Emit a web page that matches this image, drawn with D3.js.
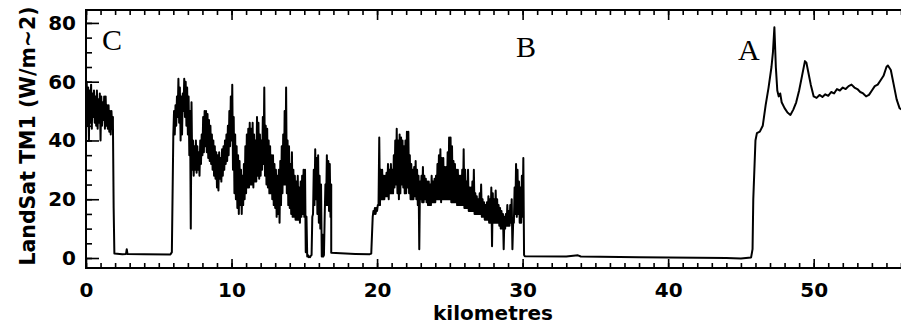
<!DOCTYPE html>
<html><head><meta charset="utf-8">
<script src="https://cdn.jsdelivr.net/npm/d3@7"></script>
<style>
html,body{margin:0;padding:0;background:#fff;}
svg{display:block;}
</style></head>
<body>
<svg id="chart" width="901" height="329"></svg>
<script>
// ---- data ----
const xMajorTicks = [0, 10, 20, 30, 40, 50];
const yMajorTicks = [0, 20, 40, 60, 80];
const xLabel = "kilometres";
const yLabel = "LandSat TM1 (W/m~2)";
const siteLabels = ["C", "B", "A"];
const siteKm = [1.1, 29.55, 44.8];
const siteVal = [70.8, 68.4, 67.3];

// Noisy stretches: per 0.1 km bin, the low and high of the dense trace
const binWidth = 0.1;
const westStart = 0.0;   // around C, km 0.0 .. 1.8
const westLo = [44, 45, 40, 46, 44, 48, 46, 45, 44, 46, 40, 45, 47, 44, 45, 44, 43, 42, 44];
const westHi = [60, 58, 57, 59, 56, 57, 55, 57, 54, 56, 55, 53, 55, 55, 52, 52, 50, 50, 48];

const midStart = 6.0;    // km 6.0 .. 16.8
const midLo = [42, 42, 45, 48, 46, 40, 42, 50, 48, 45,
  42, 35, 10, 30, 28, 30, 29, 30, 28, 32,
  35, 36, 38, 36, 34, 33, 32, 30, 28, 27,
  24, 23, 27, 26, 28, 30, 32, 33, 35, 38,
  40, 30, 22, 20, 17, 15, 18, 15, 18, 20,
  22, 24, 24, 25, 25, 24, 26, 26, 28, 27,
  28, 30, 32, 28, 25, 24, 22, 22, 20, 18,
  17, 14, 15, 12, 18, 22, 25, 25, 22, 18,
  17, 15, 14, 14, 13, 13, 13, 12, 14, 15,
  14, 2, 0.5, 0.3, 0.3, 1, 15, 18, 20, 15,
  12, 10, 0.5, 0.5, 14, 18, 18, 16, 14];
const midHi = [50, 52, 55, 61, 58, 55, 56, 61, 60, 58,
  55, 50, 53, 40, 38, 40, 38, 36, 40, 42,
  48, 50, 50, 49, 47, 45, 42, 40, 38, 36,
  35, 36, 34, 37, 38, 40, 42, 45, 50, 55,
  59, 48, 42, 38, 35, 33, 30, 28, 32, 38,
  42, 44, 46, 44, 46, 42, 40, 48, 46, 42,
  40, 48, 58, 45, 44, 40, 38, 35, 35, 32,
  30, 28, 30, 33, 38, 42, 50, 58, 40, 38,
  32, 36, 30, 28, 26, 28, 24, 26, 28, 30,
  30, 14, 1, 0.5, 0.8, 14, 30, 37, 34, 35,
  28, 25, 8, 1, 25, 35, 33, 32, 25];

const eastStart = 19.7;  // around B, km 19.7 .. 30.0
const eastLo = [14, 15, 15, 16, 18, 18, 20, 20, 20, 21,
  21, 20, 22, 22, 22, 24, 25, 22, 20, 22,
  25, 24, 22, 22, 24, 22, 20, 20, 20, 21,
  20, 18, 3, 20, 19, 19, 20, 19, 18, 18,
  18, 19, 19, 19, 20, 20, 20, 19, 20, 20,
  20, 20, 20, 20, 19, 19, 19, 19, 18, 18,
  18, 18, 18, 17, 17, 17, 16, 16, 16, 16,
  15, 15, 15, 15, 15, 14, 14, 13, 13, 13,
  12, 12, 4, 12, 12, 12, 12, 11, 10, 10,
  3, 10, 11, 11, 11, 12, 3, 12, 15, 14,
  15, 12, 12, 14];
const eastHi = [16, 17, 17, 18, 41, 30, 30, 28, 28, 29,
  32, 30, 32, 30, 35, 40, 44, 40, 42, 41,
  40, 38, 40, 43, 43, 35, 32, 30, 31, 33,
  30, 28, 26, 28, 31, 28, 27, 26, 26, 25,
  28, 26, 27, 28, 32, 35, 37, 34, 34, 31,
  31, 36, 41, 41, 38, 33, 32, 30, 30, 28,
  28, 30, 37, 30, 26, 30, 24, 24, 26, 30,
  22, 21, 20, 22, 25, 20, 19, 18, 19, 21,
  20, 24, 22, 20, 23, 20, 18, 17, 16, 15,
  14, 15, 18, 16, 18, 20, 12, 24, 32, 30,
  26, 24, 28, 34];

// Smooth stretches as [km, value]
const westFlat = [[1.85, 46], [1.9, 17], [1.95, 1.5], [2.5, 1.3], [2.75, 1.4], [2.8, 3], [2.85, 1.4],
  [4.0, 1.3], [5.8, 1.2], [5.9, 2]];
const midFlat = [[16.85, 1.8], [17.5, 1.6], [18.5, 1.4], [19.5, 1.3], [19.6, 1.5]];
const eastFlat = [[30.1, 1], [30.15, 0.6], [33.0, 0.5], [33.8, 0.9], [34.0, 0.5], [38.0, 0.3],
  [42.0, 0.1], [44.0, 0], [45.0, -0.2], [45.7, 0.2], [45.8, 3], [45.85, 20], [46.0, 40],
  [46.1, 42.5], [46.3, 43], [46.5, 45], [46.7, 52], [46.9, 58], [47.1, 65], [47.2, 70],
  [47.3, 78.5], [47.4, 65], [47.5, 57], [47.6, 55], [47.7, 56], [47.8, 53], [48.0, 51],
  [48.2, 49.5], [48.4, 48.7], [48.6, 50.5], [48.8, 53], [49.0, 57], [49.2, 62], [49.4, 67],
  [49.5, 66.5], [49.6, 64], [49.8, 59], [50.0, 55], [50.2, 54.5], [50.4, 55.5], [50.6, 54.8],
  [50.8, 55.7], [51.0, 55.2], [51.2, 56.5], [51.4, 56], [51.6, 57.5], [51.8, 57], [52.0, 58],
  [52.2, 57.5], [52.4, 58.5], [52.6, 59], [52.8, 58], [53.0, 57.5], [53.2, 56.5], [53.4, 56],
  [53.6, 55], [53.8, 55.5], [54.0, 57], [54.2, 58.5], [54.4, 59], [54.6, 60.5], [54.8, 62],
  [55.0, 65], [55.1, 65.5], [55.3, 64], [55.5, 59], [55.7, 54], [55.9, 51], [56.2, 50]];

// ---- assemble series: each noisy bin is drawn low -> high ----
function binned(start, lo, hi) {
  const out = [];
  lo.forEach((v, i) => {
    const k = start + i * binWidth;
    out.push([k, v]);
    out.push([k + binWidth / 2, hi[i]]);
  });
  return out;
}
const series = [].concat(
  binned(westStart, westLo, westHi), westFlat,
  binned(midStart, midLo, midHi), midFlat,
  binned(eastStart, eastLo, eastHi), eastFlat);

// ---- layout ----
const svg = d3.select("#chart");
const mLeft = 86, mRight = 901, mTop = 10, mBottom = 268;
const x = d3.scaleLinear().domain([0, 56]).range([mLeft, mRight]);
const y = d3.scaleLinear().domain([-3.4, 84.4]).range([mBottom, mTop]);

const tickFont = "'DejaVu Sans', sans-serif";

// line
svg.append("clipPath").attr("id", "clip").append("rect")
  .attr("x", mLeft).attr("y", mTop).attr("width", mRight - mLeft).attr("height", mBottom - mTop);
svg.append("path").datum(series)
  .attr("clip-path", "url(#clip)")
  .attr("fill", "none").attr("stroke", "#000").attr("stroke-width", 2)
  .attr("stroke-linejoin", "round")
  .attr("d", d3.line().x(d => x(d[0])).y(d => y(d[1])));

// axes
function styleAxis(g) {
  g.select(".domain").remove();
  g.selectAll(".tick line").attr("stroke", "#000").attr("stroke-width", 1.6);
  g.selectAll("text").attr("font-family", tickFont).attr("font-weight", "bold")
    .attr("font-size", 20).attr("fill", "#000");
}
const xMinor = d3.range(0, 57, 1);
const yMinor = d3.range(0, 85, 5);

svg.append("g").attr("transform", `translate(0,${mBottom})`)
  .call(d3.axisBottom(x).tickValues(xMinor).tickSize(-5).tickFormat(""))
  .call(styleAxis);
svg.append("g").attr("transform", `translate(0,${mBottom})`)
  .call(d3.axisBottom(x).tickValues(xMajorTicks).tickSize(-9).tickPadding(15).tickFormat(d3.format("d")))
  .call(styleAxis);
svg.append("g").attr("transform", `translate(0,${mTop})`)
  .call(d3.axisTop(x).tickValues(xMinor).tickSize(-5).tickFormat(""))
  .call(styleAxis);
svg.append("g").attr("transform", `translate(0,${mTop})`)
  .call(d3.axisTop(x).tickValues(xMajorTicks).tickSize(-10).tickFormat(""))
  .call(styleAxis);
svg.append("g").attr("transform", `translate(${mLeft},0)`)
  .call(d3.axisLeft(y).tickValues(yMinor).tickSize(-6).tickFormat(""))
  .call(styleAxis);
svg.append("g").attr("transform", `translate(${mLeft},0)`)
  .call(d3.axisLeft(y).tickValues(yMajorTicks).tickSize(-13).tickPadding(10).tickFormat(d3.format("d")))
  .call(styleAxis);

// frame
svg.append("path")
  .attr("d", `M${mRight + 2},${mTop}H${mLeft}V${mBottom}H${mRight + 2}`)
  .attr("fill", "none").attr("stroke", "#000").attr("stroke-width", 2);

// axis titles
svg.append("text").attr("x", 493).attr("y", 320)
  .attr("text-anchor", "middle").attr("font-family", tickFont).attr("font-weight", "bold")
  .attr("font-size", 20).text(xLabel);
svg.append("text").attr("transform", `translate(35,136) rotate(-90)`)
  .attr("text-anchor", "middle").attr("font-family", tickFont).attr("font-weight", "bold")
  .attr("font-size", 20.5).text(yLabel);

// site letters
svg.selectAll("text.site").data(siteLabels).join("text").attr("class", "site")
  .attr("x", (d, i) => x(siteKm[i])).attr("y", (d, i) => y(siteVal[i]))
  .attr("font-family", "'Liberation Serif', 'Times New Roman', serif")
  .attr("font-size", 30).attr("fill", "#000").text(d => d);
</script>
</body></html>
